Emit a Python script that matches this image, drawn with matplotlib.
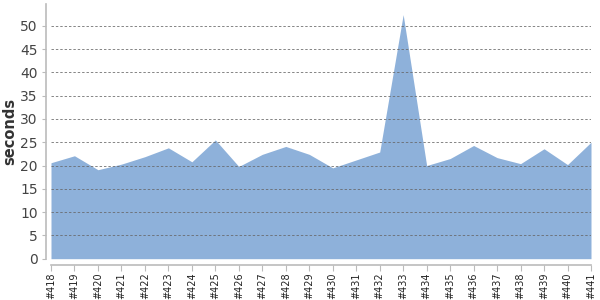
import matplotlib
matplotlib.use("Agg")
import matplotlib.pyplot as plt
import numpy as np

builds = ["#418", "#419", "#420", "#421", "#422", "#423", "#424", "#425", "#426",
          "#427", "#428", "#429", "#430", "#431", "#432", "#433", "#434", "#435",
          "#436", "#437", "#438", "#439", "#440", "#441"]
seconds = [20.6, 22.1, 19.1, 20.3, 21.9, 23.8, 20.8, 25.5, 19.8, 22.4, 24.1, 22.4,
           19.5, 21.2, 22.9, 52.4, 20.0, 21.5, 24.3, 21.7, 20.4, 23.6, 20.2, 25.0]
yticks = [0, 5, 10, 15, 20, 25, 30, 35, 40, 45, 50]

fig = plt.figure(figsize=(6, 3), dpi=100)
ax = fig.add_axes([0.085, 0.1377, 0.9, 0.8493])
x = np.arange(len(builds))
ax.fill_between(x, 0, seconds, color="#8eb1da", linewidth=0, zorder=1)

ax.set_xlim(0, len(builds) - 1)
ax.set_ylim(0, 54.7)
ax.set_yticks(yticks)
ax.set_xticks(x)
ax.set_xticklabels(builds)
ax.tick_params(axis="y", labelsize=10, labelcolor="#444444", length=3,
               color="#bbbbbb", pad=3)
ax.tick_params(axis="x", length=4, color="#bbbbbb", pad=1.5, labelrotation=90,
               labelsize=7, labelcolor="#222222")

for v in yticks[1:]:
    ax.axhline(v, color="#666666", linestyle=(0, (2.5, 2)), linewidth=0.7,
               alpha=0.8, zorder=2)

for s in ["top", "right"]:
    ax.spines[s].set_visible(False)
ax.spines["left"].set_position(("outward", 3.5))
ax.spines["bottom"].set_position(("outward", 4.5))
ax.spines["left"].set_color("#bbbbbb")
ax.spines["bottom"].set_color("#bbbbbb")
ax.spines["left"].set_linewidth(1.2)
ax.spines["bottom"].set_linewidth(1.2)

ax.set_ylabel("seconds", fontsize=10.5, color="#333333", fontweight="bold")
ax.yaxis.set_label_coords(-0.063, 0.5)

fig.savefig("out.png", dpi=100)
